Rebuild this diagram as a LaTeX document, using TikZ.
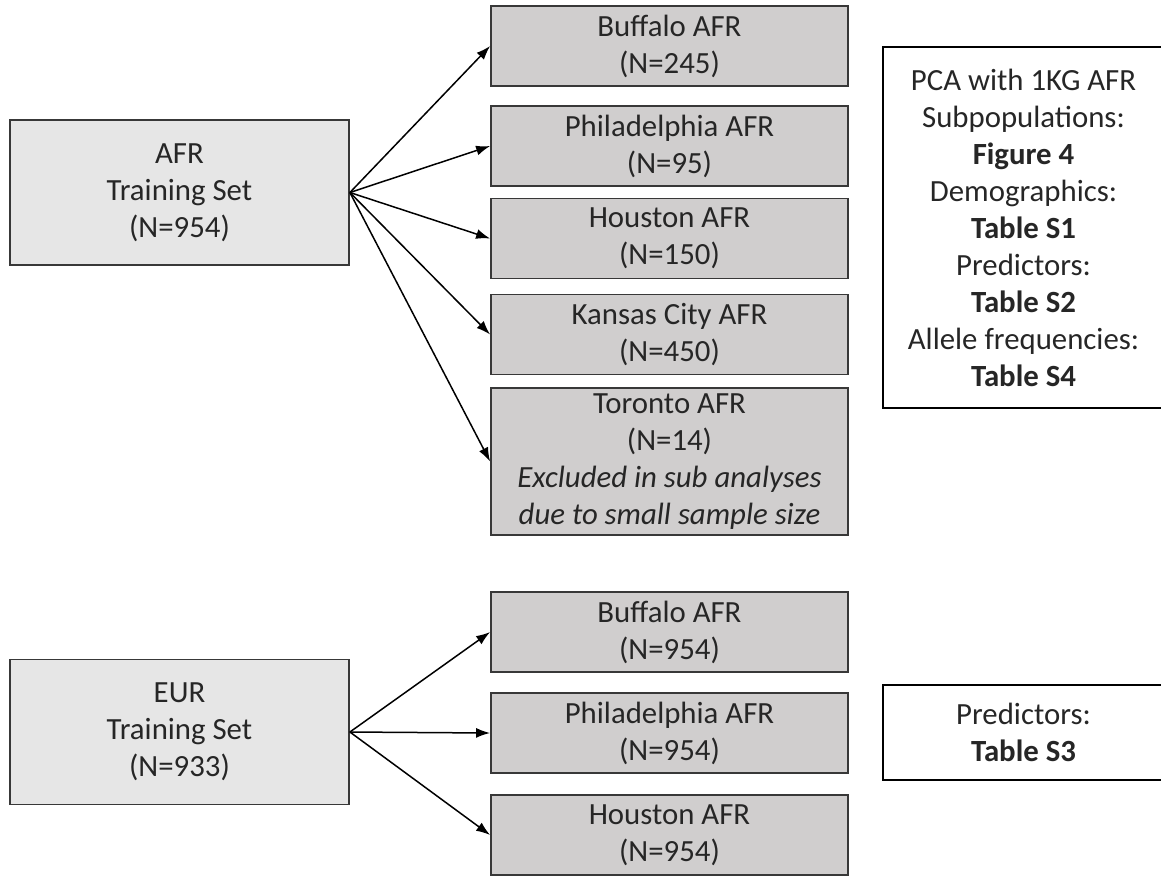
\documentclass[tikz,border=0pt]{standalone}
\usepackage{fontspec}
\setmainfont{Carlito}
\usetikzlibrary{arrows.meta}
\definecolor{trainfill}{HTML}{E6E6E6}
\definecolor{sitefill}{HTML}{D0CECE}
\definecolor{boxline}{HTML}{383838}
\definecolor{inktext}{HTML}{262626}
\tikzset{
    train box/.style = {
        shape = rectangle,
        align = center,
        draw  = boxline,
        fill  = trainfill,
        line width = 0.9pt,
        inner sep = 0pt,
        minimum width = 169.5pt,
        minimum height = 72.5pt
    },
    site box/.style = {
        shape = rectangle,
        align = center,
        draw  = boxline,
        fill  = sitefill,
        line width = 0.9pt,
        inner sep = 0pt,
        minimum width = 178.5pt,
        minimum height = #1
    },
    ref box/.style = {
        shape = rectangle,
        align = center,
        draw  = black,
        line width = 1.4pt,
        inner sep = 0pt,
        minimum width = 140.5pt,
        minimum height = #1
    },
    link/.style = {
        -{Latex[length=7pt,width=5pt]},
        line width = 0.75pt,
        draw = black
    }
}

\begin{document}
\begin{tikzpicture}[x=0.5pt, y=-0.5pt, font=\fontsize{15.4}{18.5}\selectfont, text=inktext]
      \useasboundingbox (0,0) rectangle (1161,875);
      \clip (0,0) rectangle (1161,875);

      % AFR training set and its sites
      \node (afr) at (179.5, 192.5) [train box] {AFR\\Training Set\\(N=954)};
      \node (buf1) at (669.5, 46) [site box = 40pt] {Buffalo AFR\\(N=245)};
      \node (phi1) at (669.5, 146) [site box = 40pt] {Philadelphia AFR\\(N=95)};
      \node (hou1) at (669.5, 238.5) [site box = 40pt] {Houston AFR\\(N=150)};
      \node (kan1) at (669.5, 334.5) [site box = 40pt] {Kansas City AFR\\(N=450)};
      \node (tor1) at (669.5, 461.5) [site box = 73.5pt] {Toronto AFR\\(N=14)\\\textit{Excluded in sub analyses}\\\textit{due to small sample size}};
      \node (pca) at (1023.5, 227.5) [ref box = 180.5pt] {PCA with 1KG AFR\\Subpopulations:\\\textbf{Figure 4}\\Demographics:\\\textbf{Table S1}\\Predictors:\\\textbf{Table S2}\\Allele frequencies:\\\textbf{Table S4}};

      \draw [link] (afr.east) -- (buf1.west);
      \draw [link] (afr.east) -- (phi1.west);
      \draw [link] (afr.east) -- (hou1.west);
      \draw [link] (afr.east) -- (kan1.west);
      \draw [link] (afr.east) -- (tor1.west);

      % EUR training set
      \node (eur) at (179.5, 732) [train box] {EUR\\Training Set\\(N=933)};
      \node (buf2) at (669.5, 632) [site box = 40pt] {Buffalo AFR\\(N=954)};
      \node (phi2) at (669.5, 733) [site box = 40pt] {Philadelphia AFR\\(N=954)};
      \node (hou2) at (669.5, 835) [site box = 40pt] {Houston AFR\\(N=954)};
      \node (tab) at (1023.5, 732.5) [ref box = 47.5pt] {Predictors:\\\textbf{Table S3}};

      \draw [link] (eur.east) -- (buf2.west);
      \draw [link] (eur.east) -- (phi2.west);
      \draw [link] (eur.east) -- (hou2.west);
\end{tikzpicture}
\end{document}
